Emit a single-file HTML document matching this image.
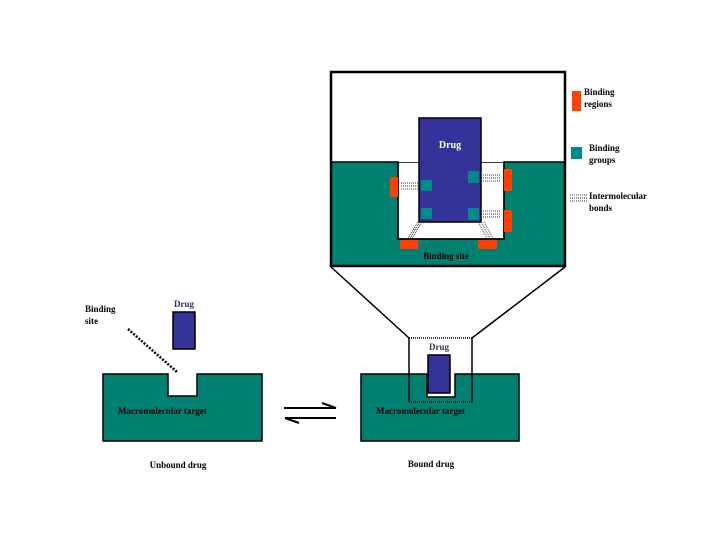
<!DOCTYPE html>
<html><head><style>body{margin:0;background:#fff}svg text{font-family:"Liberation Serif",serif;font-weight:bold}</style></head><body>
<svg width="720" height="540" viewBox="0 0 720 540" xmlns="http://www.w3.org/2000/svg">
<rect x="0" y="0" width="720" height="540" fill="#fff"/>
<!-- big box -->
<rect x="331" y="162" width="234" height="104" fill="#008070"/>
<rect x="398" y="162" width="106" height="77" fill="#fff" stroke="#000" stroke-width="1.5"/>
<rect x="331" y="150" width="234" height="12" fill="#fff"/>
<path d="M331 162 H398 V239 H504 V162 H565" fill="none" stroke="#000" stroke-width="1.5"/>
<rect x="331" y="72" width="234" height="194" fill="none" stroke="#000" stroke-width="2.5"/>
<rect x="419" y="118" width="62" height="104" fill="#333399" stroke="#000" stroke-width="1.5"/>
<text x="450" y="148" font-size="10" fill="#fff" text-anchor="middle">Drug</text>
<g fill="#008b8b"><rect x="421" y="180" width="11" height="11"/><rect x="421" y="208" width="11" height="11"/><rect x="468" y="171" width="11" height="12"/><rect x="468" y="208" width="11" height="12"/></g>
<g fill="#ff4000"><rect x="390" y="177" width="8" height="20"/><rect x="504" y="169" width="8" height="22"/><rect x="504" y="210" width="8" height="22"/><rect x="400" y="240" width="18" height="9"/><rect x="478" y="240" width="19" height="9"/></g>
<g stroke="#334" stroke-width="1" stroke-dasharray="1,1"><path d="M401 183H418M401 186H418M401 189H418"/><path d="M483 175H500M483 178H500M483 181H500"/><path d="M483 211H500M483 214H500M483 217H500"/><path d="M420 222L409 240M422 222L411 240M418 222L407 240"/><path d="M478 222L488 240M481 222L491 240M484 222L494 240"/></g>
<text x="446" y="259" font-size="9" text-anchor="middle">Binding site</text>
<!-- legend -->
<rect x="572" y="91" width="9" height="20" fill="#ff4000"/>
<text x="584" y="95" font-size="9">Binding</text><text x="584" y="107" font-size="9">regions</text>
<rect x="571" y="147" width="11" height="12" fill="#008b8b"/>
<text x="589" y="151" font-size="9">Binding</text><text x="589" y="163" font-size="9">groups</text>
<g stroke="#334" stroke-width="1" stroke-dasharray="1,1"><path d="M570 195H587M570 198H587M570 201H587"/></g>
<text x="589" y="199" font-size="9">Intermolecular</text><text x="589" y="211" font-size="9">bonds</text>
<!-- connectors -->
<path d="M331 267L409 338M565 267L472 338" stroke="#000" stroke-width="1.5" fill="none"/>
<!-- left -->
<path d="M103 374H168V396H197V374H262V441H103Z" fill="#008070" stroke="#000" stroke-width="1.5"/>
<rect x="173" y="312" width="22" height="37" fill="#333399" stroke="#000" stroke-width="1.5"/>
<text x="184" y="307" font-size="9" fill="#333366" text-anchor="middle">Drug</text>
<text x="85" y="312" font-size="9">Binding</text><text x="85" y="324" font-size="9">site</text>
<path d="M128 329L177 372" stroke="#000" stroke-width="2.5" stroke-dasharray="2,1.5"/>
<text x="118" y="414" font-size="9">Macromolecular target</text>
<text x="178" y="468" font-size="9" text-anchor="middle">Unbound drug</text>
<!-- arrows -->
<path d="M284 408H336M336 408L322 403M285 418H336M285 418L299 423" stroke="#000" stroke-width="2" fill="none"/>
<!-- right -->
<path d="M361 374H427V397H455V374H519V441H361Z" fill="#008070" stroke="#000" stroke-width="1.5"/>
<rect x="428" y="355" width="22" height="38" fill="#333399" stroke="#000" stroke-width="1.5"/>
<text x="439" y="350" font-size="9" fill="#333366" text-anchor="middle">Drug</text>
<path d="M409 338V402M472 338V402" stroke="#000" stroke-width="1.5"/>
<path d="M409 338H472M409 402H472" stroke="#000" stroke-width="1.5" stroke-dasharray="1,1"/>
<text x="376" y="414" font-size="9">Macromolecular target</text>
<text x="431" y="467" font-size="9" text-anchor="middle">Bound drug</text>
</svg>
</body></html>
